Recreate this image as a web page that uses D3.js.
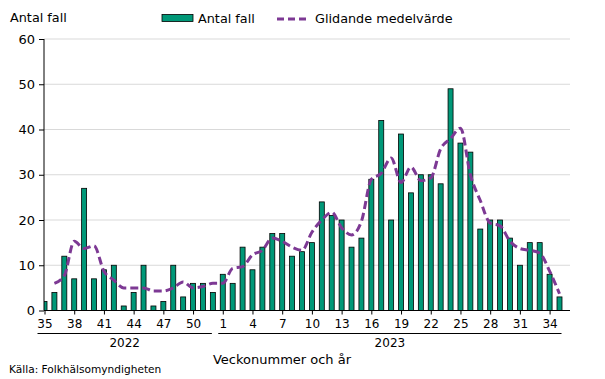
<!doctype html>
<html lang="sv">
<head>
<meta charset="utf-8">
<script src="https://d3js.org/d3.v7.min.js"></script>
<style>
    body { margin: 0; background: #fff; }
    svg { font-family: "DejaVu Sans", Verdana, sans-serif; }
</style>
</head>
<body>
<div id="chart"></div>
<script>
    // week labels (2022 w35 .. 2023 w35)
    var weeks2022 = [35,36,37,38,39,40,41,42,43,44,45,46,47,48,49,50,51,52];
    var weeks2023 = d3.range(1, 36);
    var weeks = weeks2022.concat(weeks2023);
    var years = ["2022", "2023"];

    // antal fall per vecka
    var cases = [2,4,12,7,27,7,9,10,1,4,10,1,2,10,3,6,6,4,
                 8,6,14,9,14,17,17,12,13,15,24,21,20,14,16,29,42,20,39,26,30,30,28,49,37,35,18,20,20,16,10,15,15,8,3];

    // glidande medelvärde (first week has none)
    var movingAvg = [null,6.0,7.7,15.3,13.7,14.3,8.7,6.7,5.0,5.0,5.0,4.3,4.3,5.0,6.3,5.0,5.3,6.0,
                     6.0,9.3,9.7,12.3,13.3,16.0,15.3,14.0,13.3,17.3,20.0,21.7,18.3,16.7,19.7,29.0,30.3,33.7,28.3,31.7,28.7,29.3,35.7,38.0,40.3,30.0,24.3,19.3,18.7,15.3,13.7,13.3,12.7,8.7,3.7];

    var yTicks = [0,10,20,30,40,50,60];

    var W = 605, H = 379;
    var mLeft = 44, mRight = 570, mTop = 39, mBottom = 310.5;

    var svg = d3.select("#chart").append("svg")
        .attr("width", W).attr("height", H);

    var x = d3.scalePoint()
        .domain(d3.range(weeks.length))
        .range([44.5, 559.5]);

    var y = d3.scaleLinear().domain([0, 60]).range([mBottom, mTop]);

    // gridlines
    svg.append("g").selectAll("line")
        .data(yTicks.slice(1))
        .enter().append("line")
        .attr("x1", mLeft).attr("x2", mRight)
        .attr("y1", function(d) { return y(d); })
        .attr("y2", function(d) { return y(d); })
        .attr("stroke", "#d9d9d9").attr("stroke-width", 1);

    svg.append("clipPath").attr("id", "plot")
        .append("rect").attr("x", mLeft).attr("y", 0).attr("width", mRight - mLeft).attr("height", mBottom);

    // bars
    var bw = 5;
    svg.append("g").attr("clip-path", "url(#plot)").selectAll("rect")
        .data(cases)
        .enter().append("rect")
        .attr("x", function(d, i) { return x(i) - bw / 2; })
        .attr("y", function(d) { return y(d); })
        .attr("width", bw)
        .attr("height", function(d) { return y(0) - y(d); })
        .attr("fill", "#009878")
        .attr("stroke", "#000").attr("stroke-width", 0.8);

    // moving average
    var line = d3.line()
        .defined(function(d) { return d != null; })
        .x(function(d, i) { return x(i); })
        .y(function(d) { return y(d); })
        .curve(d3.curveMonotoneX);

    svg.append("path")
        .datum(movingAvg)
        .attr("d", line)
        .attr("fill", "none")
        .attr("stroke", "#7d3994")
        .attr("stroke-width", 3)
        .attr("stroke-dasharray", "8,4");

    // y axis
    var yAxis = svg.append("g")
        .attr("transform", "translate(" + mLeft + ",0)")
        .call(d3.axisLeft(y).tickValues(yTicks).tickSize(5).tickPadding(4));
    yAxis.select(".domain").attr("d", "M0," + mTop + "V" + mBottom);
    yAxis.selectAll("text").attr("font-size", 13).attr("fill", "#000").attr("font-family", "DejaVu Sans");
    yAxis.selectAll("line, path").attr("stroke", "#000");

    // x axis
    var xAxis = svg.append("g")
        .attr("transform", "translate(0," + mBottom + ")")
        .call(d3.axisBottom(x)
            .tickValues(d3.range(0, weeks.length, 3))
            .tickFormat(function(i) { return weeks[i]; })
            .tickSize(4).tickPadding(5));
    xAxis.select(".domain").attr("d", "M" + mLeft + ",0H" + mRight);
    xAxis.selectAll("text").attr("font-size", 12).attr("fill", "#000").attr("font-family", "DejaVu Sans");
    xAxis.selectAll("line, path").attr("stroke", "#000");

    // year groups
    var groups = [
        {label: years[0], x1: x(0) - 7, x2: x(weeks2022.length - 1) - 1},
        {label: years[1], x1: x(weeks2022.length) - 4.5, x2: x(weeks.length - 1) + 2}
    ];
    svg.append("g").selectAll("line")
        .data(groups)
        .enter().append("line")
        .attr("x1", function(d) { return d.x1; })
        .attr("x2", function(d) { return d.x2; })
        .attr("y1", 333.5).attr("y2", 333.5)
        .attr("stroke", "#000").attr("stroke-width", 1);
    svg.append("g").selectAll("text")
        .data(groups)
        .enter().append("text")
        .attr("x", function(d) { return (d.x1 + d.x2) / 2; })
        .attr("y", 347)
        .attr("text-anchor", "middle")
        .attr("font-size", 12)
        .text(function(d) { return d.label; });

    // titles
    svg.append("text").attr("x", 282).attr("y", 364)
        .attr("text-anchor", "middle").attr("font-size", 13)
        .text("Veckonummer och år");
    svg.append("text").attr("x", 10).attr("y", 22)
        .attr("font-size", 12.8)
        .text("Antal fall");
    svg.append("text").attr("x", 9).attr("y", 373)
        .attr("font-size", 10.6)
        .text("Källa: Folkhälsomyndigheten");

    // legend
    var lg = svg.append("g");
    lg.append("rect").attr("x", 162).attr("y", 14.5).attr("width", 31).attr("height", 7)
        .attr("fill", "#009878").attr("stroke", "#000").attr("stroke-width", 0.8);
    lg.append("text").attr("x", 198).attr("y", 23).attr("font-size", 12.8).text("Antal fall");
    lg.append("line").attr("x1", 277).attr("x2", 307).attr("y1", 19).attr("y2", 19)
        .attr("stroke", "#7d3994").attr("stroke-width", 3).attr("stroke-dasharray", "7,4");
    lg.append("text").attr("x", 315).attr("y", 23).attr("font-size", 12.8).text("Glidande medelvärde");
</script>
</body>
</html>
